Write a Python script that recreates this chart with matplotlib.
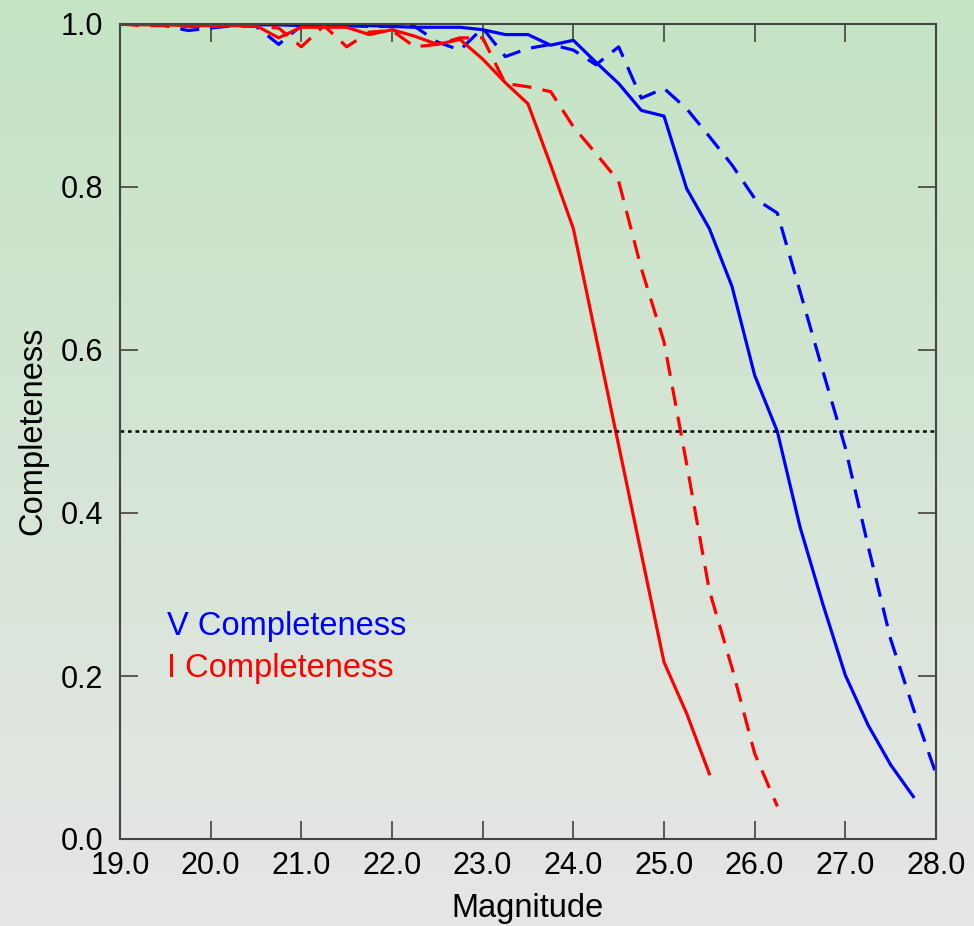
import matplotlib.pyplot as plt
import numpy as np

plt.rcParams['font.family'] = ['Liberation Sans', 'DejaVu Sans']

# magnitudes, step 0.25
mag_v_solid = np.arange(19.0, 27.76, 0.25)
mag_v_dash = np.arange(19.0, 28.01, 0.25)
mag_i_solid = np.arange(19.0, 25.51, 0.25)
mag_i_dash = np.arange(19.0, 26.26, 0.25)

v_solid = [1.0, 1.0, 1.0, 1.0, 1.0, 1.0, 0.999, 0.999, 0.998, 0.998, 0.998, 0.998,
           0.997, 0.996, 0.996, 0.996, 0.993, 0.987, 0.987, 0.974, 0.980, 0.953,
           0.927, 0.894, 0.887, 0.798, 0.749, 0.678, 0.569, 0.500, 0.383, 0.289,
           0.201, 0.140, 0.091, 0.052]
v_dash = [1.0, 1.0, 0.998, 0.992, 0.995, 0.998, 0.997, 0.975, 0.998, 0.998, 0.998,
          0.997, 0.997, 0.997, 0.978, 0.968, 0.995, 0.960, 0.970, 0.975, 0.968,
          0.950, 0.972, 0.909, 0.921, 0.896, 0.862, 0.827, 0.786, 0.768, 0.672,
          0.575, 0.480, 0.360, 0.245, 0.160, 0.080]
i_solid = [1.0, 0.999, 0.999, 0.998, 0.998, 0.998, 0.998, 0.983, 0.996, 0.996,
           0.996, 0.987, 0.993, 0.985, 0.975, 0.981, 0.957, 0.928, 0.902, 0.827,
           0.749, 0.616, 0.483, 0.350, 0.217, 0.154, 0.080]
i_dash = [1.0, 0.998, 0.998, 0.997, 0.997, 0.998, 0.997, 0.995, 0.972, 0.998,
          0.972, 0.990, 0.992, 0.972, 0.975, 0.983, 0.983, 0.927, 0.923, 0.917,
          0.874, 0.841, 0.807, 0.700, 0.610, 0.460, 0.305, 0.210, 0.105, 0.040]

fig = plt.figure(figsize=(9.74, 9.26), dpi=100)

# background gradient green -> grey
bg = fig.add_axes([0, 0, 1, 1], zorder=-1)
top = np.array([196, 228, 196]) / 255
bot = np.array([230, 230, 230]) / 255
t = np.linspace(0, 1, 256)[:, None]
grad = top[None, :] * (1 - t) + bot[None, :] * t
bg.imshow(grad[:, None, :], aspect='auto', extent=[0, 1, 0, 1])
bg.axis('off')

ax = fig.add_axes([120/974, 1-839/926, 816/974, 815/926])
ax.set_facecolor('none')

lw = 2.3
ax.plot(mag_v_dash, v_dash, color='#0000ff', lw=lw, ls=(0, (6, 3.5)))
ax.plot(mag_v_solid, v_solid, color='#0000ff', lw=lw)
ax.plot(mag_i_dash, i_dash, color='#ff0000', lw=lw, ls=(0, (6, 3.5)))
ax.plot(mag_i_solid, i_solid, color='#ff0000', lw=lw)
ax.axhline(0.5, color='black', lw=1.8, ls=(0, (1.5, 1.5)))

ax.text(19.52, 0.25, 'V Completeness', color='#0000ff', fontsize=23.5)
ax.text(19.52, 0.199, 'I Completeness', color='#ff0000', fontsize=23.5)

ax.set_xlim(19, 28)
ax.set_ylim(0, 1)
ax.set_xticks(np.arange(19, 28.1, 1))
ax.set_yticks(np.arange(0, 1.01, 0.2))
ax.set_xticklabels(['%.1f' % v for v in np.arange(19, 28.1, 1)])
ax.set_yticklabels(['%.1f' % v for v in np.arange(0, 1.01, 0.2)])
ax.tick_params(direction='in', length=13, width=1.1, color='#333333',
               top=True, right=True, labelsize=22)
ax.tick_params(axis='x', pad=9)
ax.tick_params(axis='y', pad=12)
for s in ax.spines.values():
    s.set_color('#444444')
    s.set_linewidth(1.5)

fig.text(528/974, 1-909/926, 'Magnitude', ha='center', va='center', fontsize=23.5)
fig.text(33/974, 1-431/926, 'Completeness', ha='center', va='center',
         rotation=90, fontsize=23.5)

fig.savefig('out.png', dpi=100)
